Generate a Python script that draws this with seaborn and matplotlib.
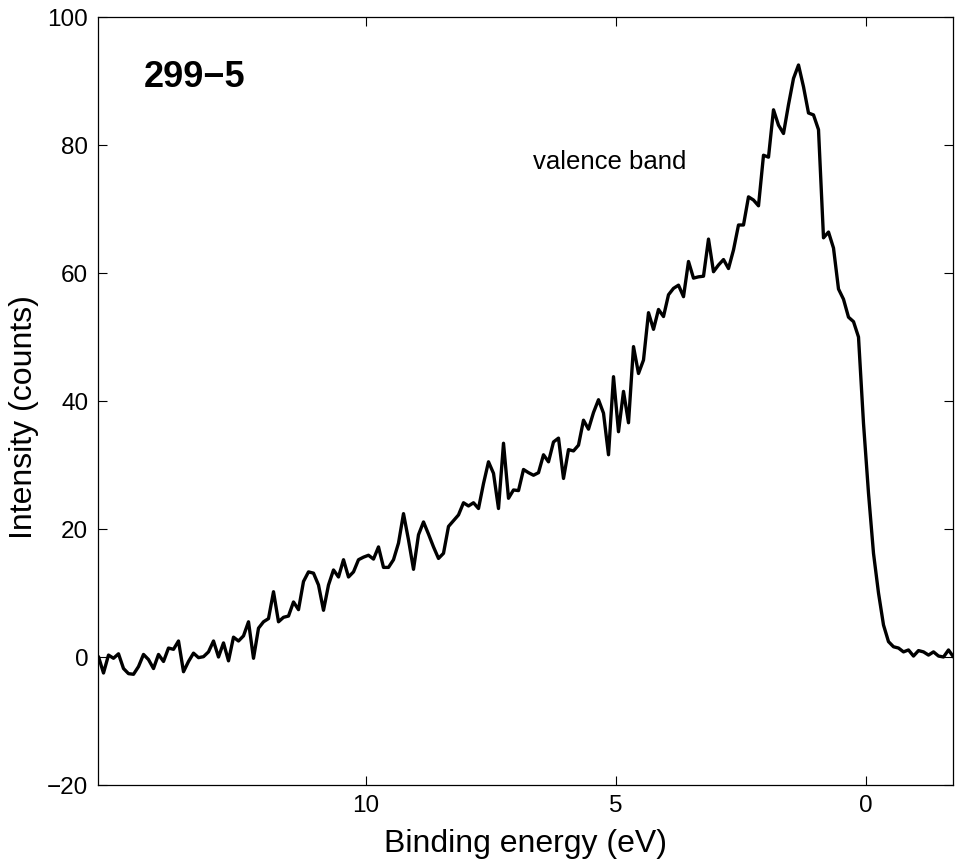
import numpy as np
import pandas as pd
from matplotlib import pyplot as plt
import seaborn as sns

# binding energy grid (eV), 0.1 eV steps from 15.35 down to -1.75
energy = np.round(np.arange(15.35, -1.80, -0.1), 2)

# intensity (counts)
intensity = [
    0.05, -2.5, 0.3, -0.2, 0.5, -1.8, -2.6, -2.7, -1.5, 0.4,
    -0.4, -1.8, 0.4, -0.7, 1.4, 1.2, 2.5, -2.3, -0.7, 0.6,
    -0.1, 0.05, 0.8, 2.5, 0.0, 2.2, -0.6, 3.1, 2.5, 3.3,
    5.5, -0.2, 4.5, 5.5, 6.0, 10.2, 5.5, 6.2, 6.4, 8.6,
    7.4, 11.8, 13.3, 13.1, 11.25, 7.3, 11.25, 13.6, 12.5, 15.2,
    12.5, 13.3, 15.2, 15.6, 15.9, 15.3, 17.2, 14.0, 14.0, 15.2,
    17.8, 22.4, 18.3, 13.7, 19.1, 21.1, 19.2, 17.2, 15.4, 16.2,
    20.4, 21.3, 22.2, 24.1, 23.6, 24.1, 23.2, 27.1, 30.5, 28.7,
    23.2, 33.4, 24.8, 26.1, 26.0, 29.3, 28.8, 28.4, 28.8, 31.6,
    30.5, 33.6, 34.2, 27.9, 32.4, 32.2, 33.1, 37.0, 35.6, 38.2,
    40.2, 38.1, 31.6, 43.8, 35.2, 41.5, 36.6, 48.5, 44.3, 46.4,
    53.8, 51.2, 54.3, 53.2, 56.6, 57.6, 58.1, 56.3, 61.8, 59.2,
    59.4, 59.5, 65.3, 60.2, 61.25, 62.1, 60.7, 63.6, 67.5, 67.5,
    71.9, 71.4, 70.5, 78.4, 78.1, 85.5, 83.1, 81.8, 86.3, 90.4,
    92.5, 89.1, 85.0, 84.7, 82.4, 65.5, 66.4, 63.9, 57.5, 55.9,
    53.1, 52.4, 50.0, 36.5, 25.6, 16.2, 10.0, 5.0, 2.4, 1.6,
    1.4, 0.8, 1.1, 0.15, 1.0, 0.8, 0.3, 0.8, 0.15, 0.0,
    1.1, 0.0,
]

x_ticks = [10, 5, 0]
y_ticks = [-20, 0, 20, 40, 60, 80, 100]

sample_label = "299\u22125"
peak_label = "valence band"

sns.set_style("ticks")
plt.rcParams['font.family'] = ['Liberation Sans', 'DejaVu Sans']
plt.rcParams['axes.unicode_minus'] = True
plt.rcParams['text.color'] = 'black'
plt.rcParams['axes.labelcolor'] = 'black'

df = pd.DataFrame({"energy": energy, "intensity": intensity})

fig = plt.figure(figsize=(9.55, 8.61), dpi=100)
ax = fig.add_axes([98 / 955, 76 / 861, 855 / 955, 768 / 861])

sns.lineplot(data=df, x="energy", y="intensity", ax=ax, color="black",
             linewidth=2.4, estimator=None, sort=False)

ax.set_xlim(15.36, -1.74)
ax.set_ylim(-20, 100)
ax.set_xticks(x_ticks)
ax.set_yticks(y_ticks)
ax.tick_params(direction="in", length=6.5, width=0.8, labelsize=17.5,
               top=True, right=True, pad=7, colors="black")
for s in ax.spines.values():
    s.set_linewidth(0.9)
    s.set_color("black")

ax.set_xlabel("Binding energy (eV)", fontsize=23, labelpad=9)
ax.set_ylabel("Intensity (counts)", fontsize=23, labelpad=4)
ax.yaxis.set_label_coords(-0.069, 0.479)

ax.text(14.44, 89.0, sample_label, fontsize=26, fontweight="bold",
        ha="left", va="baseline")
ax.text(6.66, 76.3, peak_label, fontsize=18.5, ha="left", va="baseline")

fig.savefig("out.png", dpi=100)
